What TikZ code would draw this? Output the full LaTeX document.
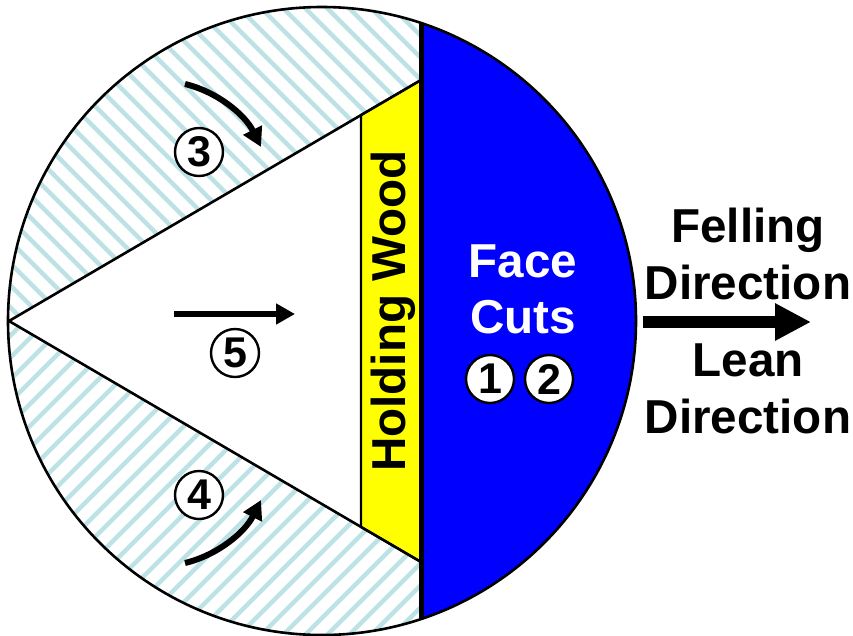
\documentclass[tikz,border=0pt]{standalone}
\usepackage{fontspec}
\setmainfont{Liberation Sans}
\usetikzlibrary{arrows.meta}
\definecolor{stripe}{RGB}{188,226,230}
\definecolor{faceblue}{RGB}{0,0,255}
\definecolor{holdyellow}{RGB}{255,255,0}
\begin{document}
\begin{tikzpicture}[x=1pt,y=-1pt,
  lab/.style={font=\fontsize{47.6}{48}\bfseries\selectfont,inner sep=0pt,anchor=base},
  num/.style={circle,draw=black,line width=2.4pt,fill=white,minimum size=48pt,inner sep=0pt,font=\fontsize{43}{43}\bfseries\selectfont},
  stripeline/.style={stripe,line width=4.5pt},
  outline/.style={draw=black,line width=2.6pt,line join=round},
  thinarrow/.style={line width=6pt,-{Triangle[length=19pt,width=20pt]}},
  bigarrow/.style={line width=12pt,-{Triangle[length=36pt,width=35pt]}}]
\useasboundingbox (0,0) rectangle (853,635);
\coordinate (c) at (322,321);
\coordinate (apex) at (9,321);
\coordinate (chT) at (421,23);
\coordinate (chB) at (421,619);
\coordinate (upR) at (421,80);
\coordinate (loR) at (421,562);
\coordinate (upL) at (361,115);
\coordinate (loL) at (361,527);
% upper sector stripes
\begin{scope}
  \clip (c) circle[radius=314];
  \clip (apex) -- (upR) -- (421,0) -- (0,0) -- (0,321) -- cycle;
  \foreach \k in {-30,...,30}{
    \draw[stripeline] ({\k*22+11},0) -- ({\k*22+411},400);
  }
\end{scope}
% lower sector stripes
\begin{scope}
  \clip (c) circle[radius=314];
  \clip (apex) -- (loR) -- (421,635) -- (0,635) -- (0,321) -- cycle;
  \foreach \k in {-30,...,30}{
    \draw[stripeline] ({\k*22-3},635) -- ({\k*22+397},235);
  }
\end{scope}
% blue segment
\begin{scope}
  \clip (c) circle[radius=314];
  \fill[faceblue] (421,0) rectangle (640,640);
\end{scope}
% holding wood
\filldraw[fill=holdyellow,draw=black,line width=2.2pt] (upL) -- (upR) -- (loR) -- (loL) -- cycle;
% outlines
\draw[outline] (c) circle[radius=314];
\draw[outline] (loR) -- (apex) -- (upR);
\draw[draw=black,line width=5pt] (chT) -- (chB);
% labels
\node[lab,rotate=90] (hold) at (405,311) {Holding Wood};
\node[lab,text=white] (face) at (523,277) {Face};
\node[lab,text=white] (cuts) at (523,333) {Cuts};
\node[num] (n1) at (490,379) {1};
\node[num] (n2) at (549,379) {2};
\node[num] (n3) at (199,152) {3};
\node[num] (n4) at (199,495) {4};
\node[num] (n5) at (235,353) {5};
\node[lab] (fell) at (748,242) {Felling};
\node[lab] (dir1) at (748,299) {Direction};
\node[lab] (lean) at (748,376) {Lean};
\node[lab] (dir2) at (748,433) {Direction};
% arrows
\coordinate (a3s) at (185,84);
\coordinate (a3e) at (261,147);
\coordinate (a4s) at (185,563);
\coordinate (a4e) at (261,500);
\coordinate (a5s) at (174,314);
\coordinate (a5e) at (295,314);
\coordinate (bs) at (643,322);
\coordinate (be) at (811,322);
\draw[thinarrow] (a3s) .. controls (218,92) and (245,115) .. (a3e);
\draw[thinarrow] (a4s) .. controls (218,555) and (245,532) .. (a4e);
\draw[thinarrow] (a5s) -- (a5e);
\draw[bigarrow] (bs) -- (be);
\end{tikzpicture}
\end{document}
